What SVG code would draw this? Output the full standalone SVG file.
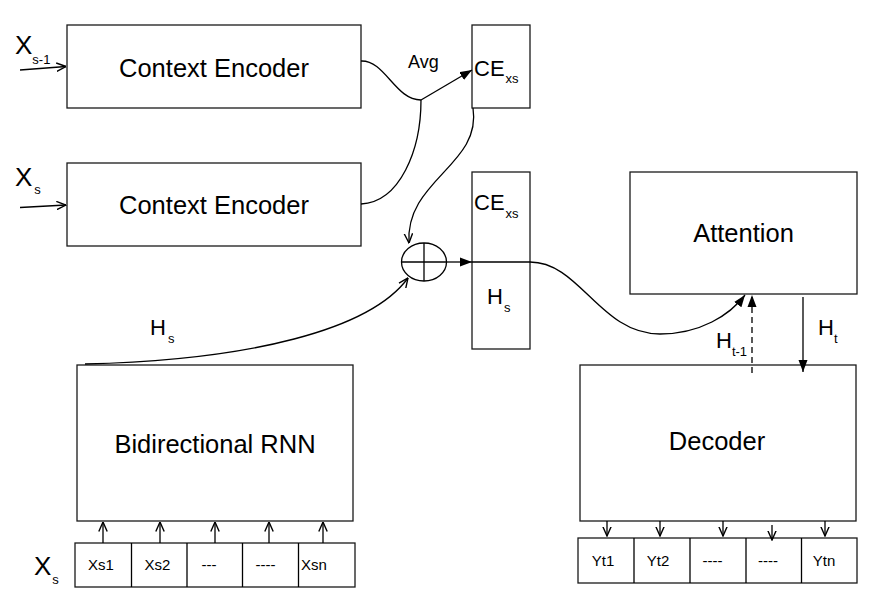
<svg xmlns="http://www.w3.org/2000/svg" width="869" height="599" viewBox="0 0 869 599">
<style>
.box{fill:#fff;stroke:#1a1a1a;stroke-width:1.3}
.ln{fill:none;stroke:#000;stroke-width:1.3}
.t{font-family:"Liberation Sans",Arial,sans-serif;fill:#000}
.big{font-size:25.5px}
.cell{font-size:15px}
.lab{font-size:22px}
.sub{font-size:13px}
.xl{font-size:26px}
</style>
<defs>
<marker id="fa" viewBox="0 0 12 10" refX="12" refY="5" markerWidth="12" markerHeight="10" markerUnits="userSpaceOnUse" orient="auto"><path d="M0,0.5 L12,5 L0,9.5 z" fill="#000"/></marker>
<marker id="va" viewBox="0 0 10 10" refX="9.5" refY="5" markerWidth="10" markerHeight="10" markerUnits="userSpaceOnUse" orient="auto"><path d="M0,0.8 L9.5,5 L0,9.2" fill="none" stroke="#000" stroke-width="1.4"/></marker>
</defs>
<rect width="869" height="599" fill="#fff"/>

<g id="ce1">
<rect class="box" x="67" y="25" width="294" height="83"/>
<text class="t big" x="214" y="77" text-anchor="middle">Context Encoder</text>
</g>
<g id="ce2">
<rect class="box" x="67" y="163" width="294" height="83"/>
<text class="t big" x="214" y="214" text-anchor="middle">Context Encoder</text>
</g>
<g id="cexs-top">
<rect class="box" x="472" y="25" width="58" height="83"/>
<text class="t lab" x="474" y="76">CE<tspan class="sub" dx="1" dy="7">xs</tspan></text>
</g>
<g id="concat">
<rect class="box" x="472" y="172" width="58" height="177"/>
<text class="t lab" x="474" y="210">CE<tspan class="sub" dx="1" dy="8">xs</tspan></text>
<text class="t lab" x="487" y="304">H<tspan class="sub" dx="1" dy="8">s</tspan></text>
</g>
<g id="oplus">
<ellipse class="ln" cx="424" cy="262" rx="22.5" ry="19"/>
<line class="ln" x1="401.5" y1="262" x2="446.5" y2="262"/>
<line class="ln" x1="424" y1="243" x2="424" y2="281"/>
</g>
<g id="attention">
<rect class="box" x="630" y="172" width="227" height="122"/>
<text class="t big" x="743.5" y="242" text-anchor="middle">Attention</text>
</g>
<g id="rnn">
<rect class="box" x="77" y="365" width="276" height="156"/>
<text class="t big" x="215" y="453" text-anchor="middle">Bidirectional RNN</text>
</g>
<g id="decoder">
<rect class="box" x="580" y="365" width="276" height="156"/>
<text class="t big" x="717" y="450" text-anchor="middle">Decoder</text>
</g>
<g id="xs-cells">
<rect class="box" x="75" y="543" width="280" height="44"/>
<line class="ln" x1="131.5" y1="543" x2="131.5" y2="587"/>
<line class="ln" x1="187" y1="543" x2="187" y2="587"/>
<line class="ln" x1="242.5" y1="543" x2="242.5" y2="587"/>
<line class="ln" x1="298.5" y1="543" x2="298.5" y2="587"/>
<text class="t cell" x="101" y="570" text-anchor="middle">Xs1</text>
<text class="t cell" x="157.5" y="570" text-anchor="middle">Xs2</text>
<text class="t cell" x="209" y="570" text-anchor="middle">---</text>
<text class="t cell" x="265.5" y="570" text-anchor="middle">----</text>
<text class="t cell" x="314" y="570" text-anchor="middle">Xsn</text>
</g>
<g id="yt-cells">
<rect class="box" x="578" y="538" width="279" height="45"/>
<line class="ln" x1="634" y1="538" x2="634" y2="583"/>
<line class="ln" x1="690" y1="538" x2="690" y2="583"/>
<line class="ln" x1="746" y1="538" x2="746" y2="583"/>
<line class="ln" x1="801.5" y1="538" x2="801.5" y2="583"/>
<text class="t cell" x="603" y="566" text-anchor="middle">Yt1</text>
<text class="t cell" x="658" y="566" text-anchor="middle">Yt2</text>
<text class="t cell" x="712.5" y="566" text-anchor="middle">----</text>
<text class="t cell" x="768" y="566" text-anchor="middle">----</text>
<text class="t cell" x="824" y="566" text-anchor="middle">Ytn</text>
</g>

<g id="labels">
<text class="t xl" x="15" y="54">X<tspan class="sub" font-size="14" dx="0" dy="10">s-1</tspan></text>
<text class="t xl" x="15" y="186">X<tspan class="sub" font-size="14" dx="2" dy="8">s</tspan></text>
<text class="t xl" x="34" y="575">X<tspan class="sub" font-size="14" dx="1" dy="9">s</tspan></text>
<text class="t" font-size="18" x="408" y="68">Avg</text>
<text class="t lab" x="150" y="335">H<tspan class="sub" dx="2" dy="8">s</tspan></text>
<text class="t lab" x="716" y="348">H<tspan class="sub" dx="0" dy="8">t-1</tspan></text>
<text class="t lab" x="818" y="335">H<tspan class="sub" dx="0" dy="8">t</tspan></text>
</g>

<g id="connectors">
<line class="ln" x1="20" y1="70" x2="66" y2="66.5" marker-end="url(#va)"/>
<line class="ln" x1="20" y1="207.5" x2="66" y2="205" marker-end="url(#va)"/>
<path class="ln" d="M361,61 C385,60 395,100 421,100"/>
<path class="ln" d="M361,204 C400,202 421,150 421,100"/>
<line class="ln" x1="421" y1="100" x2="472" y2="70" marker-end="url(#fa)"/>
<path class="ln" d="M473,108 C482,165 405,180 409,243" marker-end="url(#va)"/>
<path class="ln" d="M85,364 C250,360 370,330 408,278" marker-end="url(#va)"/>
<line class="ln" x1="446.5" y1="262" x2="472" y2="262" marker-end="url(#fa)"/>
<path class="ln" d="M472,262 L530,262 C580,262 600,334 660,334 C700,334 730,315 745,295" marker-end="url(#fa)"/>
<line class="ln" x1="752" y1="373" x2="752" y2="295" stroke-dasharray="6,4" marker-end="url(#fa)"/>
<line class="ln" x1="803" y1="297" x2="803" y2="372" marker-end="url(#fa)"/>
<line class="ln" x1="103" y1="543" x2="103" y2="522" marker-end="url(#va)"/>
<line class="ln" x1="160" y1="543" x2="160" y2="522" marker-end="url(#va)"/>
<line class="ln" x1="215" y1="543" x2="215" y2="522" marker-end="url(#va)"/>
<line class="ln" x1="269" y1="543" x2="269" y2="522" marker-end="url(#va)"/>
<line class="ln" x1="323" y1="543" x2="323" y2="522" marker-end="url(#va)"/>
<line class="ln" x1="607" y1="521" x2="607" y2="536" marker-end="url(#va)"/>
<line class="ln" x1="660" y1="521" x2="660" y2="536" marker-end="url(#va)"/>
<line class="ln" x1="723" y1="521" x2="723" y2="536" marker-end="url(#va)"/>
<line class="ln" x1="772" y1="525" x2="772" y2="540" marker-end="url(#va)"/>
<line class="ln" x1="825" y1="521" x2="825" y2="536" marker-end="url(#va)"/>
</g>
</svg>
